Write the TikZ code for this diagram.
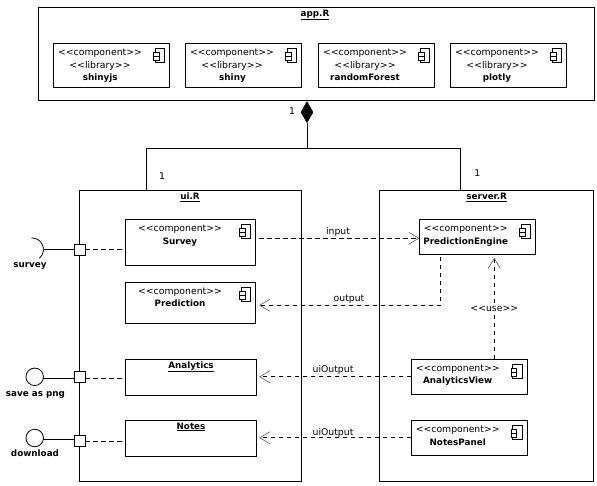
\documentclass[tikz,border=0pt]{standalone}
\usepackage{fontspec}
\setmainfont{DejaVu Sans}
\usetikzlibrary{arrows.meta,shapes.geometric}
\newcommand{\stereo}[1]{<{}<{}#1>{}>}
\tikzset{
  x=1pt,y=-1pt,
  ln/.style={line width=0.8pt,draw=black},
  ubox/.style={ln,fill=white,rectangle,inner sep=0pt,outer sep=0pt},
  txt/.style={inner sep=0pt,outer sep=0pt,text height=6.5pt,text depth=1.8pt,font=\fontsize{9.3}{10}\selectfont},
  bold/.style={txt,font=\fontsize{8.8}{10}\selectfont\bfseries},
  portbox/.style={ubox,minimum width=11pt,minimum height=11pt},
  lolli/.style={ln,circle,fill=white,inner sep=0pt,outer sep=0pt,minimum size=17.5pt},
  dep/.style={line width=0.8pt,dash pattern=on 4.5pt off 3.5pt,-{Straight Barb[length=10pt,width=12pt,line width=0.6pt,color=black!65]}},
  depline/.style={line width=0.8pt,dash pattern=on 4.5pt off 3.5pt},
  ltxt/.style={txt,fill=white}
}
\newcommand{\compicon}[1]{%
  \draw[line width=0.7pt] ([xshift=-14.5pt,yshift=-5pt]#1.north east) rectangle ([xshift=-5pt,yshift=-19pt]#1.north east);
  \draw[line width=0.7pt,fill=white] ([xshift=-16pt,yshift=-9.5pt]#1.north east) rectangle ([xshift=-10.5pt,yshift=-13.5pt]#1.north east);
  \draw[line width=0.7pt,fill=white] ([xshift=-16pt,yshift=-13.5pt]#1.north east) rectangle ([xshift=-10.5pt,yshift=-17.5pt]#1.north east);
}
\begin{document}
\begin{tikzpicture}
\useasboundingbox[fill=white] (0,0) rectangle (597,485);
% containers
\node[ubox,minimum width=555.5pt,minimum height=92.5pt] (app) at (316.25,53.75) {};
\node[ubox,minimum width=222.4pt,minimum height=291pt] (ui) at (190.5,335.8) {};
\node[ubox,minimum width=214.4pt,minimum height=291pt] (server) at (486.5,335.8) {};
\node[bold] (apptitle) at (315,14) {\underline{app.R}};
\node[bold] (uititle) at (190,197.3) {\underline{ui.R}};
\node[bold] (servertitle) at (486.7,197.3) {\underline{server.R}};
% libraries
\node[ubox,minimum width=116.2pt,minimum height=44.5pt] (shinyjs) at (111.4,65.25) {};
\node[ubox,minimum width=116.2pt,minimum height=44.5pt] (shiny) at (243.4,65.25) {};
\node[ubox,minimum width=116.4pt,minimum height=44.5pt] (rf) at (376.5,65.25) {};
\node[ubox,minimum width=116.4pt,minimum height=44.5pt] (plotly) at (508.5,65.25) {};
\compicon{shinyjs}\compicon{shiny}\compicon{rf}\compicon{plotly}
\node[txt] (c1) at (100,52.7) {\stereo{component}};
\node[txt] (l1) at (100,66) {\stereo{library}};
\node[bold] (n1) at (100.3,77.7) {shinyjs};
\node[txt] (c2) at (232,52.7) {\stereo{component}};
\node[txt] (l2) at (232,66) {\stereo{library}};
\node[bold] (n2) at (232.5,77.7) {shiny};
\node[txt] (c3) at (365,52.7) {\stereo{component}};
\node[txt] (l3) at (365,66) {\stereo{library}};
\node[bold] (n3) at (365,77.7) {randomForest};
\node[txt] (c4) at (497,52.7) {\stereo{component}};
\node[txt] (l4) at (497,66) {\stereo{library}};
\node[bold] (n4) at (497,77.7) {plotly};
% ui boxes
\node[ubox,minimum width=130.4pt,minimum height=46pt] (survey) at (190.5,242.3) {};
\node[ubox,minimum width=130.4pt,minimum height=41pt] (prediction) at (190.5,302.8) {};
\node[ubox,minimum width=131.4pt,minimum height=35.7pt] (analytics) at (191,377.15) {};
\node[ubox,minimum width=131.4pt,minimum height=36pt] (notes) at (191,438.3) {};
\compicon{survey}\compicon{prediction}
\node[txt] (c5) at (180,228.7) {\stereo{component}};
\node[bold] (n5) at (180,242) {Survey};
\node[txt] (c6) at (180,291.7) {\stereo{component}};
\node[bold] (n6) at (180,304.5) {Prediction};
\node[bold] (n7) at (191,365.7) {\underline{Analytics}};
\node[bold] (n8) at (191,426.7) {\underline{Notes}};
% server boxes
\node[ubox,minimum width=116.4pt,minimum height=35pt] (engine) at (477.5,236.8) {};
\node[ubox,minimum width=116pt,minimum height=35pt] (aview) at (469.3,376.8) {};
\node[ubox,minimum width=116pt,minimum height=35pt] (npanel) at (469.3,437.8) {};
\compicon{engine}\compicon{aview}\compicon{npanel}
\node[txt] (c9) at (465.7,228.7) {\stereo{component}};
\node[bold] (n9) at (465.7,241.7) {PredictionEngine};
\node[txt] (c10) at (457.7,368.7) {\stereo{component}};
\node[bold] (n10) at (457.7,381.3) {AnalyticsView};
\node[txt] (c11) at (457.7,429.7) {\stereo{component}};
\node[bold] (n11) at (457.7,442.7) {NotesPanel};
% composition
\node[diamond,fill=black,draw=black,line width=0.4pt,inner sep=0pt,outer sep=0pt,minimum width=12pt,minimum height=21pt] (comp) at (307,112.2) {};
\coordinate (bus) at (307,148.5);
\draw[ln] (comp.south) -- (bus) -| ([xshift=-43.8pt]ui.north);
\draw[ln] (bus) -| ([xshift=-26.2pt]server.north);
\node[txt] (m1) at (292,111.7) {1};
\node[txt] (m2) at (162,176.7) {1};
\node[txt] (m3) at (477.3,174.3) {1};
% ports
\node[portbox] (p1) at (79.8,249.5) {};
\node[portbox] (p2) at (79.8,377) {};
\node[portbox] (p3) at (79.8,441.3) {};
\coordinate (sock) at (43.5,249.5);
\draw[ln] (sock) -- (p1.west);
\draw[ln] (32,249.5) ++(-50:11.5pt) arc[start angle=-50,end angle=93,radius=11.5pt];
\node[lolli] (png) at (34.7,376.8) {};
\node[lolli] (dl) at (34.7,438) {};
\coordinate (pngout) at ([yshift=-1.5pt]png.east);
\coordinate (dlout) at ([yshift=-1pt]dl.east);
\draw[ln] (pngout) -- (pngout -| p2.west);
\draw[ln] (dlout) -- (dlout -| p3.west);
\node[bold] (lsurvey) at (30,265) {survey};
\node[bold] (lpng) at (35.5,394) {save as png};
\node[bold] (ldl) at (35,454) {download};
\draw[depline] (p1.east) -- (p1.east -| survey.west);
\coordinate (p2out) at ([yshift=-1.3pt]p2.east);
\draw[depline] (p2out) -- (p2out -| analytics.west);
\draw[depline] (p3.east) -- (p3.east -| notes.west);
% dependencies
\coordinate (inhead) at ([yshift=-1.5pt]engine.west);
\coordinate (intail) at (survey.east |- inhead);
\draw[dep] ([xshift=3.5pt]intail) -- (inhead);
\node[txt] (linput) at (338,231.7) {input};
\coordinate (bend) at (440.7,305.3);
\coordinate (outhead) at (prediction.east |- bend);
\draw[dep] ([xshift=-36.8pt,yshift=-2.5pt]engine.south) -- (bend) -- ([xshift=3.5pt]outhead);
\node[txt] (loutput) at (349,298.7) {output};
\coordinate (usetail) at ([xshift=25pt]aview.north);
\coordinate (usehead) at ([yshift=-3.5pt]engine.south -| usetail);
\draw[dep] (usetail) -- (usehead);
\node[ltxt] (luse) at (494.3,309) {\stereo{use}};
\coordinate (h1) at (analytics.east |- aview.west);
\draw[dep] (aview.west) -- ([xshift=2.5pt]h1);
\node[txt] (lui1) at (333,370) {uiOutput};
\coordinate (h2) at (notes.east |- npanel.west);
\draw[dep] (npanel.west) -- ([xshift=2.5pt]h2);
\node[txt] (lui2) at (333,432.7) {uiOutput};
\end{tikzpicture}
\end{document}
